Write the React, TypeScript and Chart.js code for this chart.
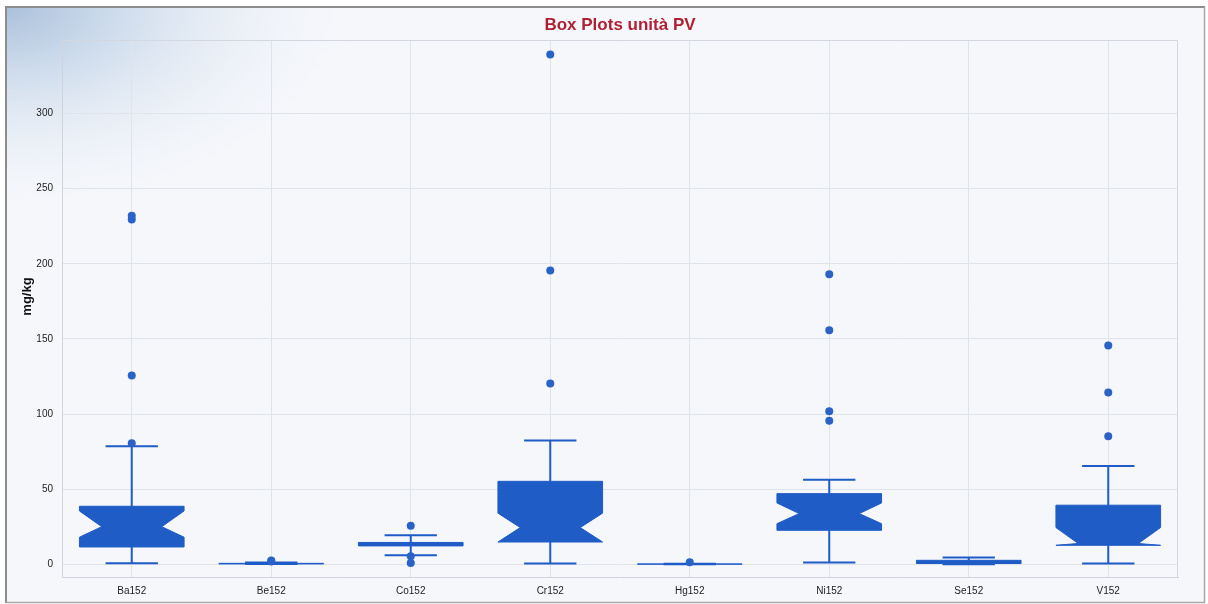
import { useEffect, useRef } from 'react';
import { Chart, registerables } from 'chart.js';

Chart.register(...registerables);

const categories = ['Ba152', 'Be152', 'Co152', 'Cr152', 'Hg152', 'Ni152', 'Se152', 'V152'];
const whiskerLow = [0.6, 0.1, 6, 0.5, 0, 1.1, 0, 0.5];
const q1 = [11.5, 0.2, 12.2, 14.8, 0.05, 22.6, 0.5, 12.6];
const median = [25, 0.4, 13.3, 24.4, 0.1, 33.7, 1.2, 13.8];
const q3 = [38.6, 0.6, 14.5, 55.2, 0.2, 47, 2.6, 39.3];
const whiskerHigh = [78.5, 1.2, 19.3, 82.3, 0.4, 56.3, 4.4, 65.4];
const notchLow = [18, 0.4, 13.3, 14.8, 0.1, 27, 1.2, 3];
const notchHigh = [35.5, 0.4, 13.3, 34, 0.1, 40.8, 1.2, 24.4];
const outliers = [
  [80.5, 125.7, 229.5, 232],
  [1.9, 2.5],
  [25.7, 5.3, 0.9],
  [120.4, 195.6, 339.3],
  [1.4],
  [95.5, 101.8, 155.7, 193],
  [],
  [85.2, 114.4, 145.7],
];
const yTicks = [0, 50, 100, 150, 200, 250, 300];
const titleText = 'Box Plots unità PV';
const yAxisTitle = 'mg/kg';

const BLUE = '#1f5cc6';
const GRID = '#dfe3ea';
const FONT = 'Arial, "Liberation Sans", sans-serif';

export default function App() {
  const ref = useRef<HTMLCanvasElement>(null);

  useEffect(() => {
    document.body.style.margin = '0';
    const canvas = ref.current!;

    const points: { x: string; y: number }[] = [];
    outliers.forEach((list, i) => list.forEach((v) => points.push({ x: categories[i], y: v })));

    const boxPlugin = {
      id: 'boxplot',
      beforeDraw(chart: any) {
        const ctx = chart.ctx as CanvasRenderingContext2D;
        const W = chart.width;
        const H = chart.height;
        ctx.save();
        ctx.fillStyle = '#ffffff';
        ctx.fillRect(0, 0, W, H);
        ctx.fillStyle = '#f5f7fb';
        ctx.fillRect(6, 7, W - 9, H - 9);
        ctx.save();
        ctx.beginPath();
        ctx.rect(6, 7, W - 9, H - 9);
        ctx.clip();
        ctx.translate(6, 7);
        ctx.scale(1.7, 1);
        const g = ctx.createRadialGradient(0, 0, 0, 0, 0, 210);
        g.addColorStop(0, 'rgba(170,192,218,1)');
        g.addColorStop(0.3, 'rgba(195,212,232,0.8)');
        g.addColorStop(0.65, 'rgba(222,231,242,0.45)');
        g.addColorStop(1, 'rgba(245,247,251,0)');
        ctx.fillStyle = g;
        ctx.fillRect(0, 0, 800, 400);
        ctx.restore();
        ctx.strokeStyle = '#8c8c8c';
        ctx.lineWidth = 2;
        ctx.beginPath();
        ctx.moveTo(6, H - 1);
        ctx.lineTo(6, 7);
        ctx.lineTo(W - 3, 7);
        ctx.stroke();
        ctx.strokeStyle = '#a8a8a8';
        ctx.lineWidth = 1.5;
        ctx.beginPath();
        ctx.moveTo(W - 3.5, 7);
        ctx.lineTo(W - 3.5, H - 1.5);
        ctx.lineTo(6, H - 1.5);
        ctx.stroke();
        ctx.restore();
      },
      beforeDatasetsDraw(chart: any) {
        const ctx = chart.ctx as CanvasRenderingContext2D;
        const xs = chart.scales.x;
        const ys = chart.scales.y;
        const area = chart.chartArea;
        ctx.save();
        ctx.strokeStyle = '#d3d8e0';
        ctx.lineWidth = 1;
        ctx.beginPath();
        ctx.moveTo(area.left, area.top + 0.5);
        ctx.lineTo(area.right - 0.5, area.top + 0.5);
        ctx.lineTo(area.right - 0.5, area.bottom);
        ctx.stroke();

        const catW = xs.getPixelForValue(1) - xs.getPixelForValue(0);
        const hb = catW * 0.375;
        const hn = catW * 0.215;
        const hc = catW * 0.1875;
        categories.forEach((_, i) => {
          const cx = xs.getPixelForValue(i);
          const yQ1 = ys.getPixelForValue(q1[i]);
          const yQ3 = ys.getPixelForValue(q3[i]);
          const yMed = ys.getPixelForValue(median[i]);
          const nLo = Math.max(notchLow[i], q1[i]);
          const nHi = Math.min(notchHigh[i], q3[i]);
          const yNLo = ys.getPixelForValue(nLo);
          const yNHi = ys.getPixelForValue(nHi);
          const yWL = ys.getPixelForValue(whiskerLow[i]);
          const yWH = ys.getPixelForValue(whiskerHigh[i]);
          const notched = nHi - nLo > 0;

          ctx.strokeStyle = BLUE;
          ctx.lineWidth = 2;
          ctx.beginPath();
          ctx.moveTo(cx, yQ3);
          ctx.lineTo(cx, yWH);
          ctx.moveTo(cx - hc, yWH);
          ctx.lineTo(cx + hc, yWH);
          ctx.moveTo(cx, yQ1);
          ctx.lineTo(cx, yWL);
          ctx.moveTo(cx - hc, yWL);
          ctx.lineTo(cx + hc, yWL);
          ctx.stroke();

          ctx.beginPath();
          ctx.moveTo(cx - hb, yQ3);
          ctx.lineTo(cx + hb, yQ3);
          if (notched) {
            ctx.lineTo(cx + hb, yNHi);
            ctx.lineTo(cx + hn, yMed);
            ctx.lineTo(cx + hb, yNLo);
          }
          ctx.lineTo(cx + hb, yQ1);
          ctx.lineTo(cx - hb, yQ1);
          if (notched) {
            ctx.lineTo(cx - hb, yNLo);
            ctx.lineTo(cx - hn, yMed);
            ctx.lineTo(cx - hb, yNHi);
          }
          ctx.closePath();
          ctx.fillStyle = BLUE;
          ctx.fill();
          ctx.lineWidth = 1;
          ctx.stroke();
        });
        ctx.restore();
      },
      afterDraw(chart: any) {
        const ctx = chart.ctx as CanvasRenderingContext2D;
        const area = chart.chartArea;
        ctx.save();
        ctx.fillStyle = '#b01f33';
        ctx.font = `bold 17px ${FONT}`;
        ctx.textAlign = 'center';
        ctx.textBaseline = 'middle';
        ctx.fillText(titleText, (area.left + area.right) / 2, 25);
        ctx.translate(27, (area.top + area.bottom) / 2 - 12);
        ctx.rotate(-Math.PI / 2);
        ctx.fillStyle = '#111111';
        ctx.font = `bold 13px ${FONT}`;
        ctx.fillText(yAxisTitle, 0, 0);
        ctx.restore();
      },
    };

    const chart = new Chart(canvas, {
      type: 'scatter',
      data: {
        labels: categories,
        datasets: [
          {
            data: points as any,
            pointRadius: 4,
            pointHoverRadius: 4,
            backgroundColor: '#2a62c8',
            borderColor: '#2a62c8',
            borderWidth: 0,
          },
        ],
      },
      options: {
        animation: false,
        responsive: false,
        maintainAspectRatio: false,
        events: [],
        layout: { padding: { top: 40, right: 30, left: 0, bottom: 0 } },
        plugins: {
          legend: { display: false },
          tooltip: { enabled: false },
          title: { display: false },
        },
        scales: {
          x: {
            type: 'category',
            labels: categories,
            offset: true,
            grid: { offset: false, color: GRID, drawTicks: false },
            border: { color: '#cfd4dc' },
            ticks: { padding: 8, color: '#222', font: { size: 10, family: FONT } },
            afterFit: (s: any) => {
              s.height = 27;
            },
          },
          y: {
            type: 'linear',
            min: -8.5,
            max: 349,
            afterBuildTicks: (s: any) => {
              s.ticks = yTicks.map((v) => ({ value: v }));
            },
            grid: { color: GRID, drawTicks: false },
            border: { color: '#cfd4dc' },
            ticks: { padding: 9, color: '#222', font: { size: 10, family: FONT } },
            afterFit: (s: any) => {
              s.width = 62;
            },
          },
        },
      } as any,
      plugins: [boxPlugin],
    });
    return () => chart.destroy();
  }, []);

  return (
    <div style={{ width: 1208, height: 604 }}>
      <canvas ref={ref} width={1208} height={604} style={{ display: 'block', width: 1208, height: 604 }} />
    </div>
  );
}
